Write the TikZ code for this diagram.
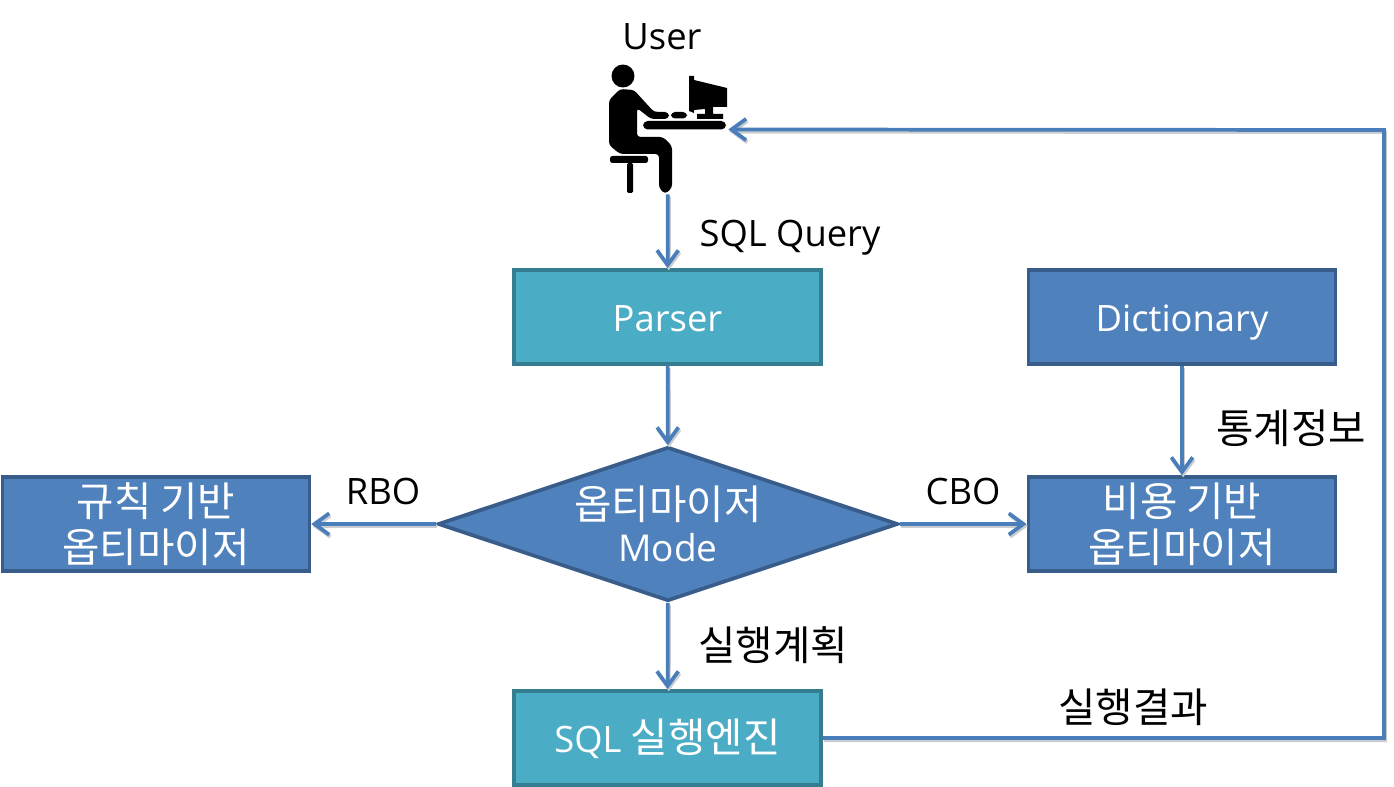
\documentclass[tikz,border=0pt]{standalone}
\usepackage{fontspec}
\setmainfont{Open Sans}[Scale=1.01]
\newfontfamily\kr{Noto Sans CJK KR}[Scale=1.13]
\usetikzlibrary{arrows.meta,shapes.geometric}
\definecolor{teal}{HTML}{4BACC6}
\definecolor{tealedge}{HTML}{357D91}
\definecolor{bluefill}{HTML}{4F81BD}
\definecolor{blueedge}{HTML}{385D8A}
\definecolor{linkc}{HTML}{4A7EBB}
\definecolor{linkshade}{HTML}{C9CCD0}
\tikzset{
  x=0.75pt,y=-0.75pt,
  basebox/.style={draw,line width=2.8pt,minimum width=230.25pt,minimum height=70.5pt,inner sep=0pt,text=white,align=center,font=\fontsize{27}{34.5}\selectfont},
  tealbox/.style={basebox,fill=teal,draw=tealedge},
  bluebox/.style={basebox,fill=bluefill,draw=blueedge},
  oneline/.style={text height=23pt,text depth=1pt},
  decision/.style={diamond,draw=blueedge,fill=bluefill,line width=2.8pt,minimum width=345pt,minimum height=115.5pt,inner sep=0pt,aspect=3},
  note/.style={font=\fontsize{27}{32}\selectfont,text=black,inner sep=0pt},
  link/.style={preaction={draw=linkshade,line width=2.8pt,-{Straight Barb[length=11pt,width=16pt,line width=2.8pt]},transform canvas={shift={(0.9pt,-1.6pt)}}},draw=linkc,line width=2.8pt,-{Straight Barb[length=11pt,width=16pt,line width=2.8pt]}}
}
\begin{document}
\begin{tikzpicture}
\useasboundingbox (0,0) rectangle (1394,787);
% user icon
\fill[black] (623,76) circle (8.6pt);
\fill[black,rounded corners=2.5pt] (609,100) -- (620,89) -- (634,90) -- (654,112) -- (660,112) -- (660,119) -- (651,119) -- (637,108) -- (637,137) -- (663,137) -- (672,146) -- (672,188) -- (665,194) -- (659,188) -- (659,154) -- (620,154) -- (609,145) -- cycle;
\fill[black,rounded corners=3pt] (652,112) rectangle (669,119);
\fill[black,rounded corners=1.8pt] (610,156) rectangle (648,163);
\fill[black,rounded corners=1pt] (627,163) rectangle (633,193);
\fill[black,rounded corners=3.5pt] (643,121) rectangle (726,129.5);
\fill[black,rounded corners=3pt] (671,112) rectangle (687,118.5);
\fill[black] (689,76) -- (694,76) -- (694,80) -- (727,88) -- (727,107) -- (713,107) -- (713,114) -- (723,114) -- (723,119) -- (697,119) -- (697,114) -- (705,114) -- (705,109) -- (694,110) -- (694,113) -- (689,111) -- cycle;
\node[minimum width=90pt,minimum height=96.75pt,inner sep=0pt] (user) at (668,129.5) {};
\node[note] (userlabel) at (662,37) {User};
% boxes
\node[tealbox,oneline] (parser) at (667.5,317) {Parser};
\node[bluebox,oneline] (dict) at (1182,317) {Dictionary};
\node[bluebox] (rbo) at (156,524) {{\kr 규칙 기반}\\{\kr 옵티마이저}};
\node[bluebox] (cbo) at (1182,524) {{\kr 비용 기반}\\{\kr 옵티마이저}};
\node[decision,label={[text=white,align=center,font=\fontsize{27}{34.5}\selectfont]center:{\kr 옵티마이저}\\[-3pt]\fontsize{27.5}{33}\selectfont Mode}] (mode) at (668,524) {};
\node[tealbox,oneline] (engine) at (667.5,738) {SQL {\kr 실행엔진}};
% labels
\node[note] (sqlq) at (790,238) {SQL Query};
\node[note] (stat) at (1291,428) {\kr 통계정보};
\node[note] (rbol) at (383,491) {RBO};
\node[note] (cbol) at (963,491) {CBO};
\node[note] (plan) at (773,645) {\kr 실행계획};
\node[note] (result) at (1133,707) {\kr 실행결과};
% connectors
\coordinate (corner) at (1384,130);
\draw[link] (user) -- (parser);
\draw[link] (parser) -- (mode);
\draw[link] (dict) -- (cbo);
\draw[link] (mode) -- (rbo);
\draw[link] (mode) -- (cbo);
\draw[link] (mode) -- (engine);
\draw[link] (engine) -| (corner) -- (user.east);
\end{tikzpicture}
\end{document}
